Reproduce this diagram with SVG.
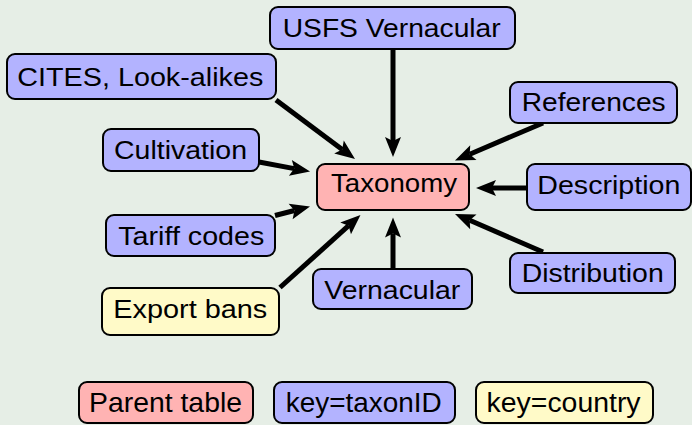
<svg xmlns="http://www.w3.org/2000/svg" width="692" height="425" viewBox="0 0 692 425">
<style>
.bg{fill:#e6eee6}
rect.n{stroke:#000;stroke-width:2}
.blue{fill:#b3b3ff}
.pink{fill:#ffb3b3}
.yel{fill:#fffac8}
text{font-family:"Liberation Sans",Arial,Helvetica,sans-serif;font-size:25px;fill:#000}
text.lg{font-size:27.5px}
.c line{stroke:#000;stroke-width:5;marker-end:url(#ah)}
</style>
<defs>
<marker id="ah" markerUnits="userSpaceOnUse" markerWidth="24" markerHeight="20" viewBox="0 -10 22 20" refX="4" refY="0" orient="auto">
<path d="M0,-8 L20,0 L0,8 L4,0 Z" fill="#000"/>
</marker>
</defs>
<rect class="bg" x="0" y="0" width="692" height="425"/>
<g class="c" id="connectors">
<line x1="393" y1="49" x2="393" y2="141"/>
<line x1="276" y1="100" x2="342.2" y2="149.4"/>
<line x1="259" y1="162" x2="294.3" y2="168.6"/>
<line x1="275" y1="215.5" x2="294.5" y2="210.5"/>
<line x1="280" y1="287.5" x2="348.6" y2="225.7"/>
<line x1="393" y1="269" x2="393" y2="233.5"/>
<line x1="543" y1="252" x2="469.7" y2="220.3"/>
<line x1="527" y1="188" x2="492" y2="188"/>
<line x1="543" y1="123" x2="469.7" y2="154.2"/>
</g>
<g id="usfs"><rect class="n blue" x="270" y="7" width="245" height="42" rx="8"/><text x="282.7" y="37.3" textLength="218" lengthAdjust="spacingAndGlyphs">USFS Vernacular</text></g>
<g id="cites"><rect class="n blue" x="7" y="54" width="269" height="45" rx="8"/><text x="17.3" y="85.6" textLength="246" lengthAdjust="spacingAndGlyphs">CITES, Look-alikes</text></g>
<g id="cultivation"><rect class="n blue" x="103" y="129" width="156" height="42" rx="8"/><text x="114" y="159" textLength="133" lengthAdjust="spacingAndGlyphs">Cultivation</text></g>
<g id="taxonomy"><rect class="n pink" x="317" y="164" width="152" height="46" rx="8"/><text x="331" y="192.3" textLength="126" lengthAdjust="spacingAndGlyphs">Taxonomy</text></g>
<g id="references"><rect class="n blue" x="510" y="82" width="167" height="41" rx="8"/><text x="521.7" y="110.7" textLength="144" lengthAdjust="spacingAndGlyphs">References</text></g>
<g id="description"><rect class="n blue" x="527" y="164" width="164" height="46" rx="8"/><text x="537.3" y="194" textLength="143" lengthAdjust="spacingAndGlyphs">Description</text></g>
<g id="tariff"><rect class="n blue" x="106" y="215" width="169" height="41" rx="8"/><text x="118.3" y="245" textLength="146" lengthAdjust="spacingAndGlyphs">Tariff codes</text></g>
<g id="exportbans"><rect class="n yel" x="102" y="288" width="177" height="47" rx="8"/><text x="113.3" y="318.3" textLength="154" lengthAdjust="spacingAndGlyphs">Export bans</text></g>
<g id="vernacular"><rect class="n blue" x="313" y="269" width="159" height="40" rx="8"/><text x="324.3" y="299.3" textLength="136" lengthAdjust="spacingAndGlyphs">Vernacular</text></g>
<g id="distribution"><rect class="n blue" x="510" y="253" width="165" height="40" rx="8"/><text x="521.7" y="281.7" textLength="142" lengthAdjust="spacingAndGlyphs">Distribution</text></g>
<g id="legend-parent"><rect class="n pink" x="79" y="382" width="174" height="41" rx="8"/><text class="lg" x="89" y="412.3" textLength="153" lengthAdjust="spacingAndGlyphs">Parent table</text></g>
<g id="legend-taxonid"><rect class="n blue" x="274" y="382" width="181" height="41" rx="8"/><text class="lg" x="285.8" y="412.3" textLength="156" lengthAdjust="spacingAndGlyphs">key=taxonID</text></g>
<g id="legend-country"><rect class="n yel" x="476" y="382" width="177" height="41" rx="8"/><text class="lg" x="486.6" y="412.3" textLength="154" lengthAdjust="spacingAndGlyphs">key=country</text></g>
</svg>
